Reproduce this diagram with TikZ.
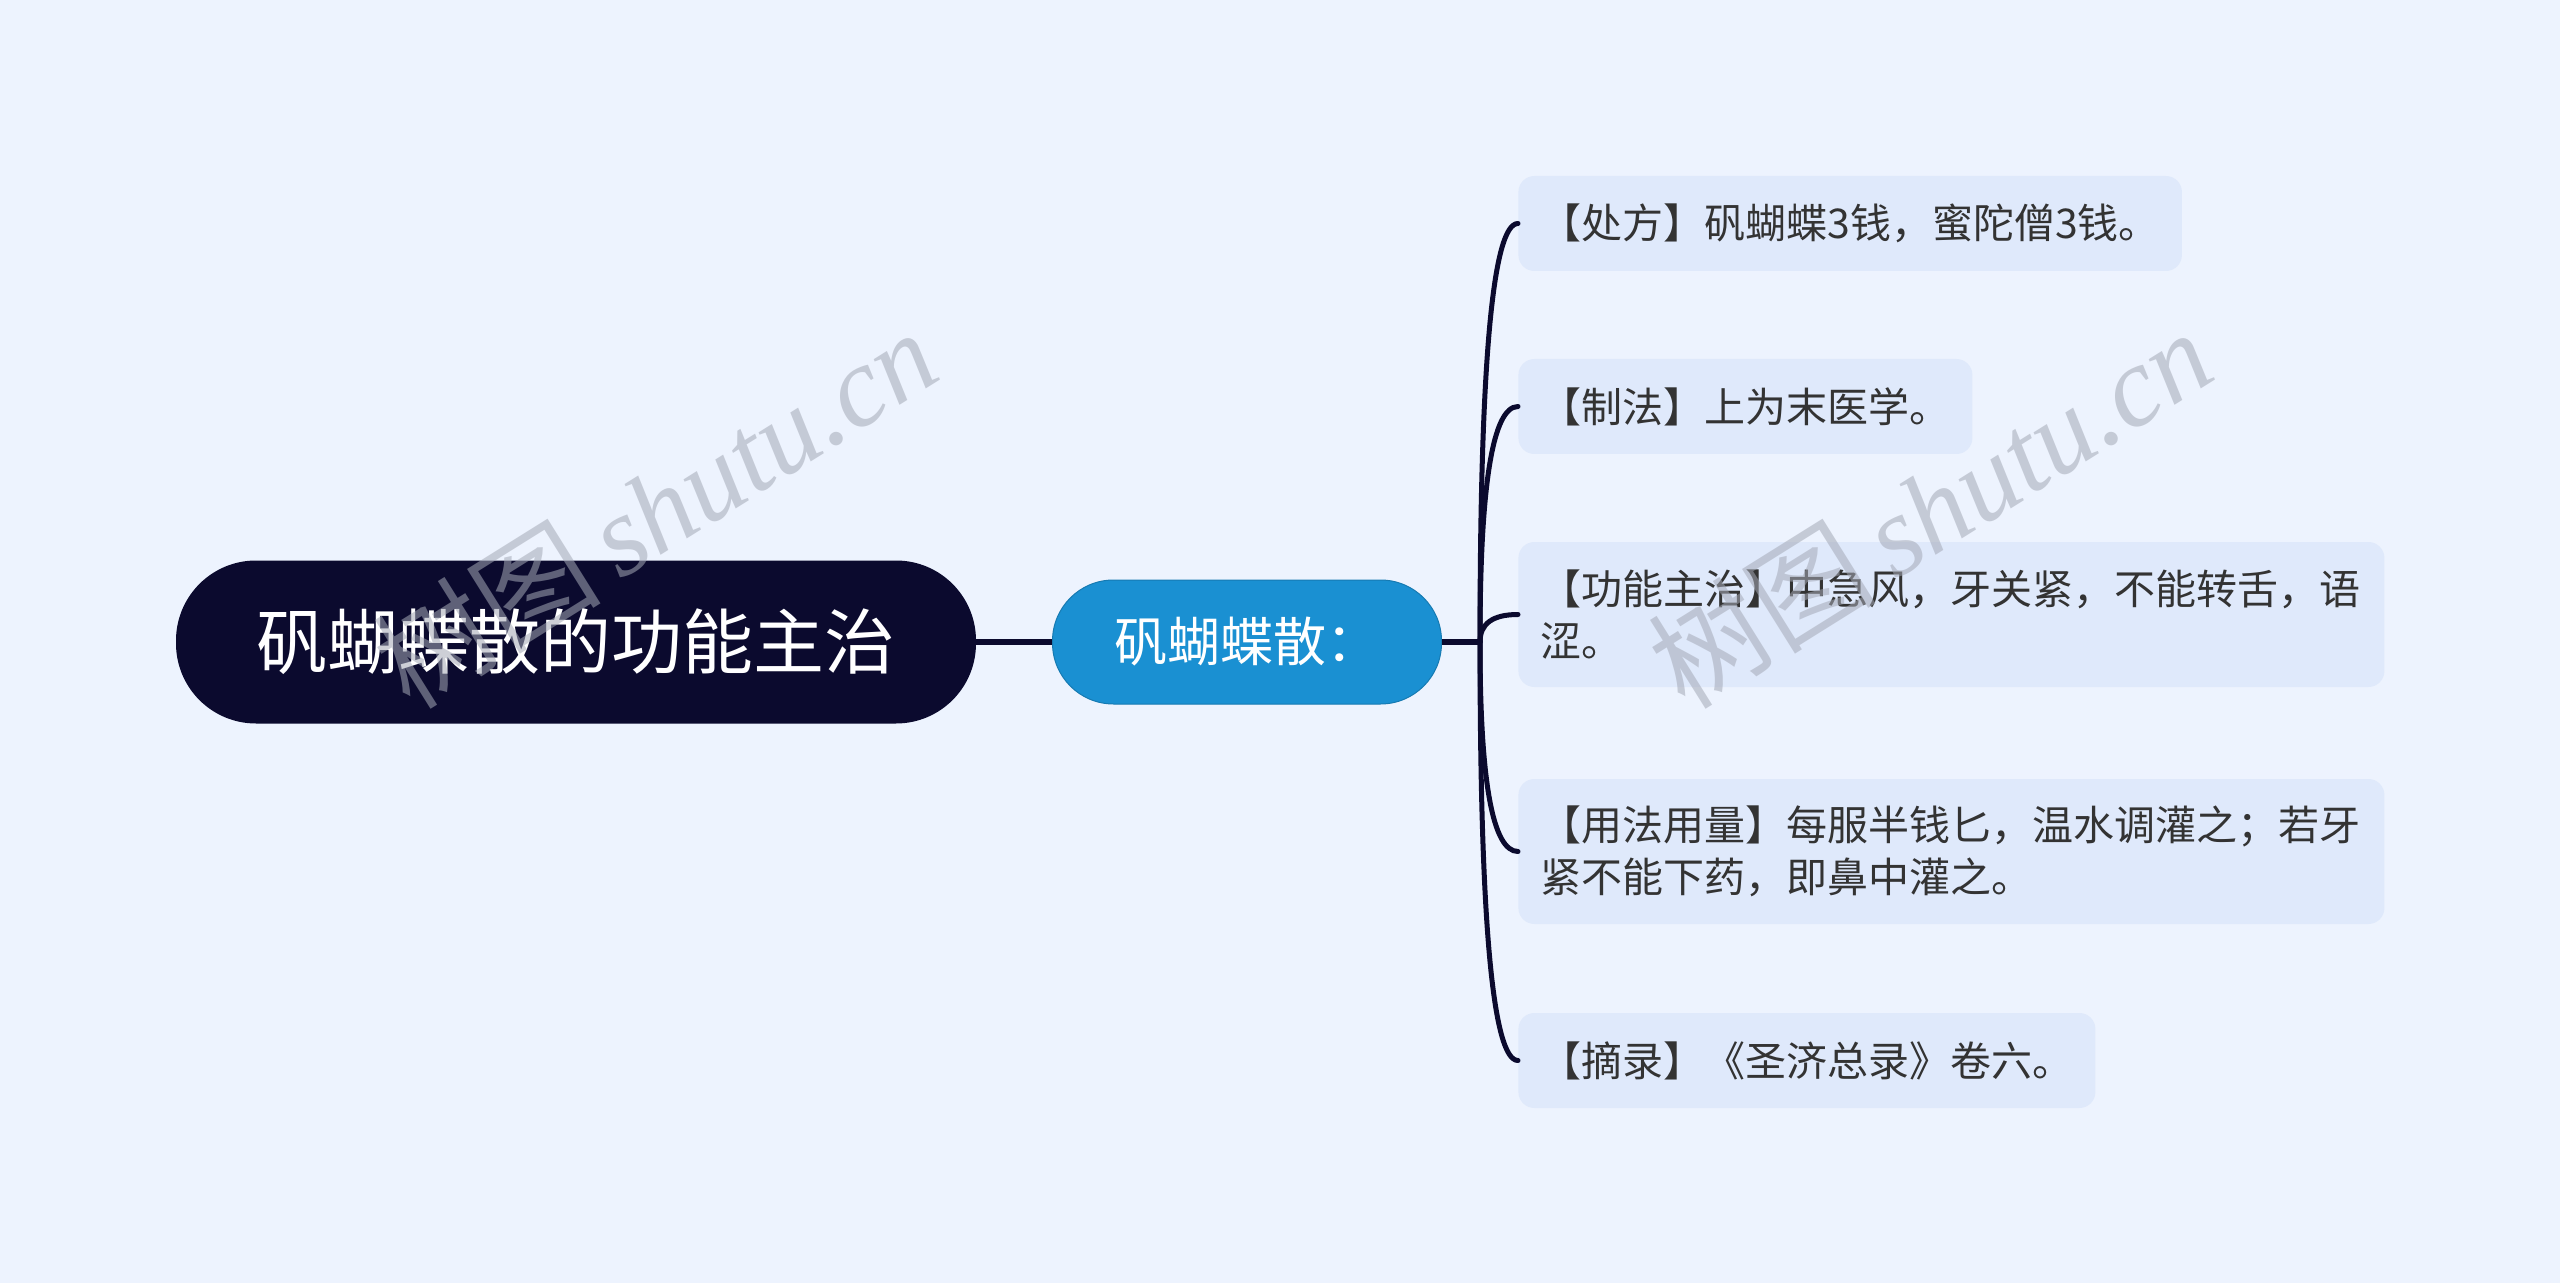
\documentclass[tikz,border=0pt]{standalone}
\usepackage{fontspec}
\setmainfont{Noto Sans CJK SC}
\newfontfamily\cjk{Noto Sans CJK SC}
\newfontfamily\wmserif{Liberation Serif}
\usetikzlibrary{calc}
\definecolor{bgc}{HTML}{EDF3FE}
\definecolor{rootc}{HTML}{0B0A2E}
\definecolor{midc}{HTML}{1A90D2}
\definecolor{leafc}{HTML}{DFE9FB}
\definecolor{leaftxt}{HTML}{333333}
\definecolor{linkc}{HTML}{0B0A2E}
\definecolor{wmc}{HTML}{A4A9B6}
\begin{document}
\begin{tikzpicture}[x=0.5pt,y=-0.5pt,
  rootbox/.style={fill=rootc, text=white, rounded corners=40pt, minimum width=400pt, minimum height=81.5pt, inner sep=0pt, font=\cjk\fontsize{35.5}{40}\selectfont},
  midbox/.style={fill=midc, draw=midc!85!black, line width=0.5pt, text=white, rounded corners=30.5pt, minimum width=194.5pt, minimum height=62pt, inner sep=0pt, font=\cjk\fontsize{26.5}{30}\selectfont},
  leafbox/.style={fill=leafc, text=leaftxt, rounded corners=8pt, anchor=west, inner xsep=11pt, inner ysep=0pt, minimum height=47.5pt, align=left, font=\cjk\fontsize{20.5}{26}\selectfont},
  widebox/.style={leafbox, text width=411pt, minimum height=72.5pt},
  link/.style={draw=linkc, line width=3pt},
  branch/.style={draw=linkc, line width=2.5pt, line cap=round},
  wmark/.style={text=wmc, opacity=0.55, rotate=32, font=\fontsize{57}{62}\selectfont}]
\fill[bgc] (0,0) rectangle (2560,1283);
\useasboundingbox (0,0) rectangle (2560,1283);

\node[rootbox] (root) at (576,642) {矾蝴蝶散的功能主治};
\node[midbox] (mid) at (1247,642) {矾蝴蝶散：};
\coordinate (J) at (1480,642);

\node[leafbox] (l1) at (1518,223.5) {【处方】矾蝴蝶3钱，蜜陀僧3钱。};
\node[leafbox] (l2) at (1518,406.5) {【制法】上为末医学。};
\node[widebox] (l3) at (1518,614.5) {【功能主治】中急风，牙关紧，不能转舌，语\\涩。};
\node[widebox] (l4) at (1518,851.5) {【用法用量】每服半钱匕，温水调灌之；若牙\\紧不能下药，即鼻中灌之。};
\node[leafbox] (l5) at (1518,1060.5) {【摘录】《圣济总录》卷六。};

\draw[link] (root.east) -- (mid.west);
\draw[link] (mid.east) -- (J);
\foreach \n in {l1,l2,l3,l4,l5}{
  \draw[branch] (J) .. controls ($(J)!0.667!(J|-\n.west)$) and ($(\n.west)!0.667!(J|-\n.west)$) .. (\n.west);
}

\node[wmark] (wm1) at (655,508) {\cjk 树图\,\wmserif\itshape shutu.cn};
\node[wmark] (wm2) at (1930,508) {\cjk 树图\,\wmserif\itshape shutu.cn};
\end{tikzpicture}
\end{document}
